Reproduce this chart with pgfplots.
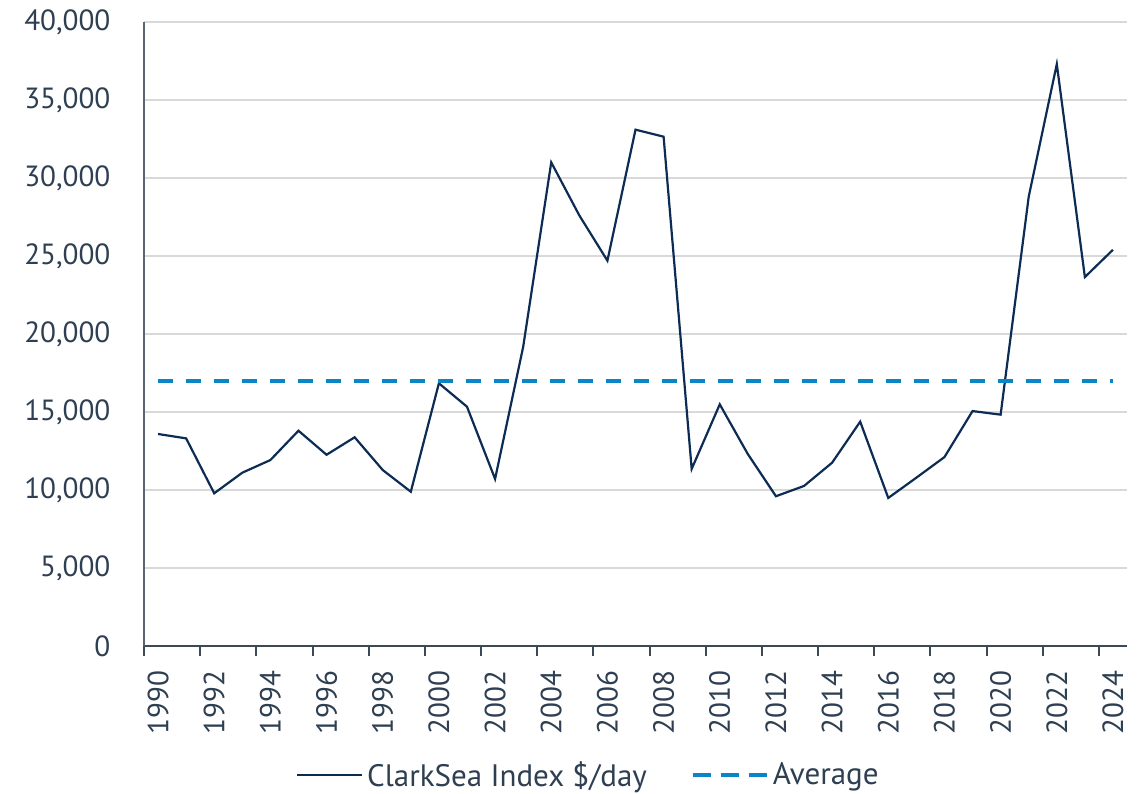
\documentclass[border=0pt]{standalone}
\usepackage{pgfplots}
\pgfplotsset{compat=1.18}
\usepackage{fontspec}
\setmainfont{PT Sans}
\usetikzlibrary{calc}
\definecolor{txt}{HTML}{2E3F52}
\definecolor{navy}{HTML}{0D2C54}
\definecolor{avgblue}{HTML}{0A86C8}
\definecolor{gridc}{HTML}{D9D9D9}
\definecolor{axc}{HTML}{3C4A58}
\begin{document}
\begin{tikzpicture}
\begin{axis}[
  scale only axis=true,
  width=491.5pt, height=312pt,
  xmin=1989.5, xmax=2024.5,
  ymin=0, ymax=40000,
  scaled y ticks=false,
  scaled x ticks=false,
  axis x line*=bottom,
  axis y line*=left,
  x axis line style={draw=axc, line width=1pt},
  y axis line style={draw=axc!85, line width=1pt},
  xtick={1990,1992,...,2024},
  xticklabels={1990,1992,1994,1996,1998,2000,2002,2004,2006,2008,2010,2012,2014,2016,2018,2020,2022,2024},
  major x tick style={draw=none},
  minor xtick={1989.5,1991.5,...,2023.5},
  minor x tick style={draw=axc, line width=1pt},
  minor tick length=5pt,
  tick align=outside,
  ytick={0,5000,...,40000},
  yticklabels={0,{5,000},{10,000},{15,000},{20,000},{25,000},{30,000},{35,000},{40,000}},
  major y tick style={draw=none},
  ymajorgrids=true,
  grid style={draw=gridc, line width=0.7pt},
  tick label style={font=\fontsize{14.6}{17}\selectfont, text=txt},
  xticklabel style={rotate=90, anchor=east, xshift=1pt},
  xticklabel shift=5.5pt,
  yticklabel style={xshift=-9pt},
  legend columns=2,
  legend style={at={(0.453,-0.207)}, anchor=center, draw=none, fill=none,
    font=\fontsize{15.5}{18}\selectfont, text=txt,
    /tikz/every even column/.append style={column sep=20pt},
    inner sep=0pt},
  clip=false,
]
\addplot[navy, line width=1.1pt, legend image code/.code={\draw[navy, line width=1.1pt] (0pt,0pt) -- (32.5pt,0pt);}] coordinates {
(1990,13590) (1991,13310) (1992,9790) (1993,11110) (1994,11920) (1995,13800)
(1996,12260) (1997,13380) (1998,11280) (1999,9890) (2000,16840) (2001,15340)
(2002,10710) (2003,19170) (2004,31000) (2005,27600) (2006,24700) (2007,33100)
(2008,32650) (2009,11350) (2010,15490) (2011,12300) (2012,9600) (2013,10260)
(2014,11750) (2015,14380) (2016,9490) (2017,10790) (2018,12110) (2019,15060)
(2020,14830) (2021,28800) (2022,37300) (2023,23650) (2024,25400)
};
\addlegendentry{ClarkSea Index \$/day}
\addplot[avgblue, line width=2pt, dash pattern=on 7.5pt off 6.5pt, legend image code/.code={\draw[avgblue, line width=2pt, dash pattern=on 9pt off 5pt] (0pt,0pt) -- (37pt,0pt);}] coordinates {(1990,17000) (2024,17000)};
\addlegendentry{Average}
\coordinate (SW) at (rel axis cs:0,0);
\coordinate (NE) at (rel axis cs:1,1);
\end{axis}
\pgfresetboundingbox
\path[use as bounding box] ($(SW)+(-72pt,-73.5pt)$) rectangle ($(NE)+(8pt,11pt)$);
\end{tikzpicture}
\end{document}
